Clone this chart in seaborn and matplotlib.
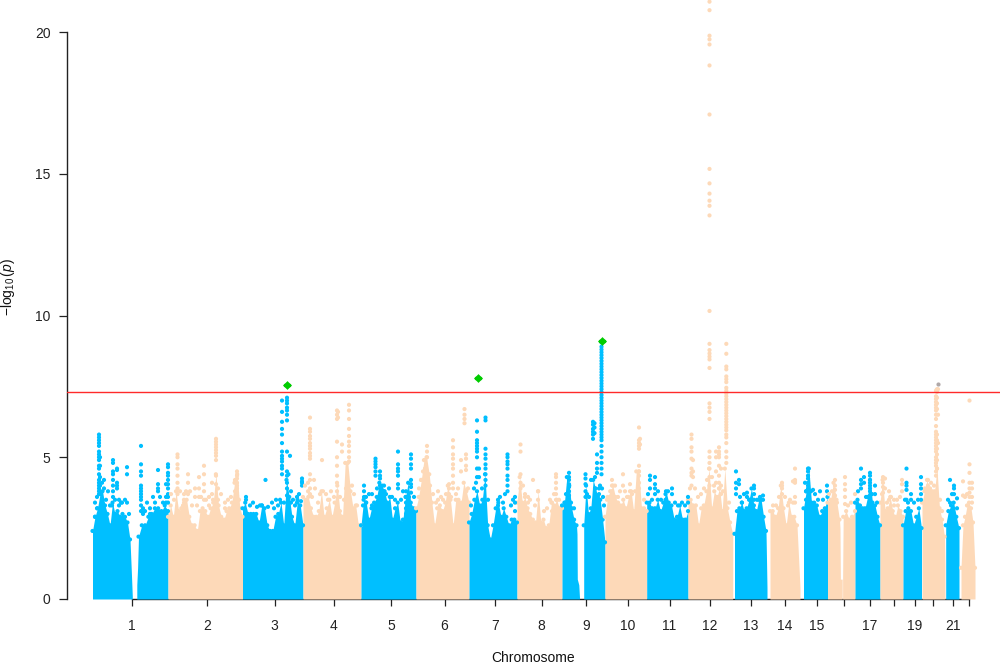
import numpy as np
import pandas as pd
import seaborn as sns
import matplotlib
matplotlib.use("Agg")
import matplotlib.pyplot as plt

BLUE = "#00BFFF"
PEACH = "#FDD9B8"

tick_pos = [132, 207, 274.5, 334, 391, 444.5, 495, 541.5, 586, 628, 669.5, 710, 751, 785,
            816.5, 843.5, 869.5, 893.5, 915, 933, 953, 968.5]
tick_labels = ["1", "2", "3", "4", "5", "6", "7", "8", "9", "10", "11", "12", "13", "14",
               "15", "", "17", "", "19", "", "21", ""]

# solid mass of each chromosome arm: (start, end, colour index, upper envelope, extra (pos, height) vertices)
arms = [
    (92.5, 130, 0, [2.4, 2.9, 3.2, 3.7, 3.8, 3.3, 3.0, 2.6, 3.4, 3.0, 3.1, 2.9, 3.0, 2.9, 2.7, 2.1], [(131.3, 1.0), (132.3, 0.1)]),
    (138.5, 168, 0, [2.2, 2.6, 2.6, 2.9, 3.0, 3.2, 3.2, 3.1, 3.3, 3.1], [(136.8, 0.5), (137.6, 1.1)]),
    (168, 242.5, 1, [2.9, 3.3, 2.9, 3.8, 3.1, 3.2, 3.5, 3.5, 2.9, 2.6, 2.6, 2.4, 3.1, 3.2, 3.1, 2.9, 3.2, 3.4,
                     4.4, 3.3, 2.9, 2.8, 3.1, 3.2, 3.4, 4.1, 4.4, 3.2, 2.9], []),
    (242.5, 303, 0, [3.2, 3.4, 3.0, 3.0, 3.0, 3.0, 2.7, 3.3, 3.2, 2.6, 2.4, 2.4, 2.9, 3.0, 3.4, 2.6, 4.2, 3.6,
                     2.9, 2.6, 3.5, 3.3, 2.6], []),
    (303, 361, 1, [3.6, 3.5, 3.6, 3.2, 2.9, 2.9, 3.1, 3.8, 2.9, 3.2, 3.5, 2.9, 3.4, 4.0, 3.1, 2.9, 4.8, 4.8,
                   3.8, 3.2, 3.3, 2.6, 2.6], []),
    (361, 416, 0, [2.6, 3.5, 3.4, 2.8, 3.2, 3.4, 3.6, 4.1, 4.0, 3.8, 3.4, 3.6, 2.8, 3.2, 3.4, 2.7, 2.8, 3.6,
                   4.1, 3.4, 3.2, 3.1], []),
    (416, 469, 1, [3.2, 3.6, 4.2, 4.9, 5.0, 4.4, 3.4, 2.6, 3.2, 3.3, 3.1, 3.4, 4.0, 3.5, 2.6, 3.5, 3.5, 3.4,
                   4.1, 3.8, 3.4], []),
    (469, 517, 0, [2.7, 3.0, 3.5, 3.8, 3.3, 3.5, 4.4, 2.6, 2.1, 2.6, 3.2, 3.4, 2.9, 3.2, 2.9, 2.6, 2.8, 2.8, 2.7], []),
    (517, 562, 1, [3.4, 4.3, 3.4, 3.6, 3.2, 3.0, 2.8, 2.7, 3.8, 2.7, 2.8, 2.5, 2.6, 3.4, 3.3, 3.5, 3.2, 3.2], []),
    (562, 576.5, 0, [3.3, 3.4, 4.3, 4.0, 3.2, 2.8, 2.6], [(577, 2.3), (577.3, 0.7), (578.8, 0.5), (579.5, 0.05)]),
    (583.7, 605, 0, [2.6, 4.0, 3.0, 3.2, 4.2, 3.9, 3.6, 3.5, 2.8, 2.0], []),
    (605, 646.7, 1, [2.9, 3.6, 3.8, 4.0, 3.6, 3.4, 3.3, 3.5, 3.2, 3.6, 3.8, 3.1, 4.5, 4.5, 3.2, 3.2, 3.1], []),
    (646.7, 688, 0, [3.4, 3.4, 3.2, 3.2, 3.5, 3.1, 3.4, 3.8, 3.4, 3.3, 2.8, 2.9, 3.3, 2.8, 2.8, 3.1], []),
    (688, 732.7, 1, [3.5, 3.5, 3.3, 3.3, 2.6, 3.2, 3.3, 3.8, 4.6, 3.2, 3.8, 3.6, 3.9, 3.1, 4.6, 3.2, 2.7, 2.3], []),
    (734.5, 766, 0, [2.3, 3.1, 3.2, 3.4, 3.1, 3.2, 3.5, 3.9, 3.3, 3.1, 3.5, 3.5, 2.9, 2.4], [(767, 0.4)]),
    (770, 797, 1, [3.1, 3.1, 2.9, 3.2, 4.0, 3.2, 2.6, 3.4, 2.9, 2.9, 2.6], [(798.5, 1.5), (800, 0.4)]),
    (803.5, 827.5, 0, [3.2, 3.8, 4.6, 3.4, 3.4, 3.3, 2.9, 3.1, 3.2, 3.6], []),
    (827.5, 839.5, 1, [3.4, 3.5, 4.1, 3.5, 2.8], [(840, 2.5), (840.4, 0.7), (842.2, 0.7)]),
    (843.2, 855, 1, [2.9, 3.1, 2.8, 2.9, 3.1], [(842.6, 0.7)]),
    (855, 880, 0, [3.4, 3.5, 3.3, 3.2, 3.2, 3.6, 4.2, 3.4, 3.3, 2.9, 2.6], []),
    (880, 903, 1, [3.4, 4.2, 3.1, 3.2, 3.6, 3.1, 2.9, 3.3, 3.1, 2.9], []),
    (903, 921.5, 0, [2.6, 3.1, 3.2, 3.1, 2.6, 2.9, 3.2, 2.5], []),
    (922, 944.5, 1, [3.4, 3.8, 4.2, 3.8, 3.8, 3.8, 4.6, 3.2, 2.8, 2.2], [(945, 1.2)]),
    (945.7, 959, 0, [2.6, 3.1, 3.3, 3.4, 2.9, 2.5], []),
    (961, 975, 1, [1.1, 2.6, 2.9, 3.3, 3.4, 3.2, 2.7, 1.1], []),
]

# individual SNPs above the solid mass: (position, [-log10 p, ...])
blue_snps = [
    (99, [5.8, 5.7, 5.6, 5.5, 5.4, 5.2, 5.1, 5.0, 4.9, 4.7, 4.6, 4.4, 4.2, 4.1, 4.0, 3.9, 3.8, 3.7]),
    (100, [5.0, 4.7, 4.3, 4.0, 3.8]), (113, [4.9, 4.8, 4.5, 4.4, 4.2, 4.0, 3.8, 3.6]),
    (117, [4.6, 4.55, 4.1, 4.0, 3.9]), (127, [4.65, 4.4, 3.4]), (119, [3.5, 3.3]), (122, [3.4]),
    (141, [5.4, 4.75, 4.5, 4.35, 4.0, 3.9, 3.8, 3.7, 3.6, 3.5, 3.3, 3.1]), (143, [3.2, 3.0]), (147, [3.4]),
    (158, [4.55, 4.05, 3.9, 3.8]), (150, [3.2, 3.0]),
    (168, [4.75, 4.65, 4.45, 4.35, 4.2, 4.05, 3.9, 3.7, 3.6, 3.4]), (166, [4.05, 3.6, 3.4]),
    (282, [7.0, 6.6, 6.25, 6.0, 5.8, 5.5, 5.2, 5.05, 4.95, 4.85, 4.7, 4.6, 4.4]),
    (287, [7.1, 7.0, 6.9, 6.75, 6.65, 6.5, 6.3, 5.2, 4.5, 4.35, 4.1, 3.9, 3.65]),
    (288.5, [4.4, 3.6, 3.5, 3.4, 3.3]), (290, [5.05]), (265.5, [4.2]), (276, [3.5]),
    (262, [3.3]), (253, [3.4]), (302, [4.25, 4.15, 4.1, 4.0]), (297, [3.6, 3.4]),
    (364, [4.0, 3.8, 3.6]), (366, [3.6, 3.4]), (375.5, [4.95, 4.85, 4.75, 4.65, 4.5, 4.35]),
    (380, [4.5, 4.35, 4.25, 4.0]), (398, [5.2, 4.75, 4.6, 4.5, 4.35, 4.05, 3.9]), (384, [4.0, 3.8]),
    (411, [5.1, 4.95, 4.75, 4.6, 4.2, 4.05, 3.95, 3.75]), (406, [3.8, 3.6, 3.4, 3.2, 3.0]), (392, [3.6]),
    (477, [6.3, 5.9, 5.6, 5.5, 5.4, 5.3, 5.2, 5.0, 4.6, 4.3]), (479, [4.6, 4.3]),
    (485.5, [6.4, 6.3, 5.3, 5.1, 4.95, 4.75, 4.6, 4.4, 4.2, 4.0]),
    (507.5, [5.1, 5.0, 4.85, 4.75, 4.6, 4.35, 4.2, 4.0, 3.8]), (498, [3.5, 3.3]), (515, [3.6, 3.4, 3.1]),
    (569, [4.45, 4.3, 4.2, 4.05, 3.95, 3.8, 3.65]), (565, [3.4]),
    (585.5, [4.4, 4.25, 4.05, 3.8, 3.6]), (593, [6.25, 6.15, 6.0, 5.9, 5.8, 5.65]), (594.5, [6.2, 6.05, 5.85]),
    (597, [5.1, 4.8, 4.6, 4.45]), (599, [3.9, 3.7, 3.5]), (604, [3.3]),
    (601.5, [9.05, 8.9, 8.8, 8.7, 8.6, 8.5, 8.4, 8.3, 8.2, 8.1, 8.0, 7.9, 7.8, 7.7, 7.6, 7.5, 7.4, 7.3, 7.2, 7.1,
             7.0, 6.9, 6.8, 6.7, 6.6, 6.5, 6.4, 6.3, 6.2, 6.1, 6.0, 5.9, 5.8, 5.7, 5.6, 5.4, 5.2, 5.0, 4.8, 4.6, 4.4]),
    (650, [4.35, 4.2, 3.9]), (655, [4.3, 4.05, 3.9, 3.7]), (672, [3.9, 3.7]), (665.5, [3.7, 3.5]),
    (688, [3.6, 3.4]), (736, [4.5, 4.1, 3.9, 3.7]), (739, [4.2, 4.05]), (747, [3.75, 3.6]),
    (754, [4.0, 3.9, 3.7, 3.5]), (763, [3.65, 3.5]), (742, [3.4]),
    (808, [4.6, 4.5, 4.35, 4.25, 4.1, 4.0, 3.9]), (806, [3.8, 3.5]), (813, [3.85]), (820, [3.8]),
    (827, [4.0, 3.8]), (861, [4.6, 4.2, 4.05, 3.9]), (864, [4.3, 4.1]),
    (870, [4.45, 4.35, 4.2, 4.1, 4.0, 3.9, 3.8, 3.65]), (875, [4.0, 3.7]),
    (906.5, [4.6, 4.1, 4.0, 3.85, 3.5]), (911, [3.7, 3.5]), (921, [4.3, 4.05, 3.9, 3.7, 3.5]),
    (950, [4.2, 3.4]), (954, [4.0, 3.9, 3.7]), (957, [3.55, 3.2]),
    # scatter just above the solid mass
    (95, [3.4, 2.9]), (97, [3.6, 3.2]), (102, [4.1]), (104, [4.2, 3.9]), (106, [3.5]), (108, [3.8]), (110, [3.3]),
    (112, [3.3]), (115, [3.5]), (121, [3.4]), (125, [3.5]), (129, [3.0]), (145, [3.1]), (153, [3.6]), (155, [3.4]),
    (160, [3.6]), (163, [3.4]), (246, [3.6, 3.5]), (250, [3.3]), (257, [3.25]), (260, [3.3]), (268, [3.25]),
    (272, [3.4]), (274, [3.2]), (278, [3.3]), (280, [3.5]), (284, [3.4]), (291, [3.8, 3.4]), (293, [3.5]),
    (295, [3.3]), (299, [3.7]), (301, [3.45]), (363, [3.3]), (369, [3.7]), (372, [3.7, 3.3]), (377, [3.9]),
    (386, [3.7, 3.4]), (389, [3.9]), (395, [3.5]), (401, [3.5]), (403, [3.8]), (409, [3.6]), (414, [3.6]),
    (471, [3.3]), (474, [3.9]), (476, [4.1]), (482, [3.9]), (488, [3.5]), (500, [3.6]), (503, [3.4]), (505, [3.7]),
    (511, [3.3]), (513, [3.5]), (566, [3.7]), (571, [3.4]), (574, [3.2]), (587, [3.7]), (589, [3.6]), (591, [4.2]),
    (595, [4.3, 3.9]), (600, [4.0]), (602, [3.9]), (603, [3.6]), (648, [3.7]), (652, [3.5]), (658, [3.8]),
    (661, [3.5]), (668, [3.8]), (675, [3.4]), (678, [3.3]), (682, [3.4]), (685, [3.3]), (740, [3.6]), (744, [3.7]),
    (750, [3.5]), (757, [3.5]), (760, [3.6]), (805, [4.1]), (811, [3.8]), (815, [3.7]), (818, [3.5]), (823, [3.5]),
    (858, [3.8]), (866, [3.6]), (872, [3.7]), (877, [3.4]), (905, [3.5]), (908, [3.4]), (914, [3.4]), (918, [3.5]),
    (948, [3.5]), (952, [3.7]),
]
peach_snps = [
    (177.5, [5.1, 5.0, 4.75, 4.6, 4.35, 4.1, 3.9, 3.7]), (188, [4.4, 4.1, 3.7]), (184, [3.7, 3.4]),
    (199, [4.3, 3.9, 3.6]), (195, [3.9, 3.6]), (204, [4.7, 4.4, 4.05, 3.8, 3.5]), (212, [4.1, 3.7]),
    (216, [5.65, 5.55, 5.45, 5.35, 5.25, 5.15, 5.05, 4.9, 4.35, 4.05]), (218, [3.9, 3.5]),
    (225, [3.4, 3.2]), (237, [4.5, 4.35, 4.25, 4.1, 4.0, 3.9, 3.75, 3.65, 3.5]), (235, [4.2, 3.8]),
    (310, [6.4, 6.0, 5.9, 5.75, 5.65, 5.5, 5.4, 5.3, 5.15, 5.05, 4.95, 4.4, 4.2, 3.9, 3.7]), (322, [4.9]),
    (314, [4.2]), (315, [3.9]), (323, [3.8]), (337, [6.65, 6.5, 6.35, 5.55, 5.0, 4.7, 4.35, 4.1, 3.8]),
    (338, [6.6, 6.4]), (342, [5.45, 5.2]), (349, [6.85, 6.65, 6.35, 6.0, 5.75, 5.55, 5.4, 5.2, 5.0, 4.85]),
    (427, [5.4, 5.2, 5.0]), (425, [4.9, 4.6]), (423, [4.5, 4.2, 3.9]), (438, [3.8, 3.5]),
    (453, [5.6, 5.35, 5.1, 4.95, 4.75, 4.6, 4.35, 4.1, 3.9]), (464.5, [6.7, 6.5, 6.35, 6.2]),
    (466, [5.1, 4.95, 4.7, 4.55]), (449, [4.05, 3.9, 3.7]), (461, [4.9, 4.5]),
    (520.5, [5.45, 5.2, 4.4, 4.1, 3.9]), (533, [4.2]), (528, [3.6, 3.4]), (538, [3.8, 3.5]),
    (556, [4.4, 4.3, 4.1, 3.9, 3.7, 3.5]), (552, [3.4, 3.1]),
    (639, [6.05, 5.6, 5.5, 5.4, 5.3, 4.7, 4.5, 4.35, 4.1, 3.9]), (640, [5.65, 5.45]),
    (623, [4.4, 4.0]), (612, [4.2, 4.0, 3.8]), (630, [4.05, 3.8]), (618, [3.6]),
    (691.5, [5.8, 5.65, 5.35, 5.2, 4.95, 4.6, 4.45, 4.35, 4.0]), (693, [4.9, 4.5, 4.3]),
    (709.5, [21.07, 20.77, 19.87, 19.74, 19.56, 18.82, 17.09, 15.17, 14.66, 14.3, 14.05, 13.87, 13.53, 10.16,
             9.0, 8.78, 8.66, 8.55, 8.45, 8.15, 6.9, 6.75, 6.6, 6.35, 5.2, 5.0, 4.8, 4.6, 4.3, 4.0]),
    (726.3, [9.0, 8.65, 8.2, 8.1, 7.85, 7.75, 7.65, 7.45, 7.35, 7.25, 7.15, 7.05, 6.95, 6.85, 6.75, 6.65, 6.55,
             6.45, 6.35, 6.25, 6.15, 6.05, 5.95, 5.8, 5.7, 5.5, 5.2, 5.0, 4.8]),
    (719, [5.35, 5.2, 5.1, 5.0, 4.7, 4.35, 4.1, 3.9]), (716, [5.2, 5.0, 4.5, 4.1]), (721, [4.6, 4.0, 3.7]),
    (782, [4.1, 4.0, 3.9, 3.7]), (795, [4.6, 4.2, 4.15, 4.1, 3.6, 3.4]), (793, [4.15, 3.4]),
    (835, [4.2, 4.0, 3.85, 3.65]), (845, [4.3, 4.05, 3.85, 3.6, 3.35]), (855, [3.7]),
    (883, [4.3, 4.1, 3.95, 3.75]), (885, [4.25, 3.9]), (889, [3.8, 3.5]), (894, [3.5, 3.3]),
    (902, [4.2, 4.05, 3.8]), (928, [4.2, 4.0]), (931, [4.1]),
    (936, [7.35, 7.15, 7.05, 6.95, 6.85, 6.75, 6.65, 6.5, 6.35, 6.1, 5.9, 5.8, 5.7, 5.6, 5.5, 5.4, 5.3, 5.2, 5.0,
           4.9, 4.8, 4.7, 4.5, 4.35]),
    (937, [7.4, 7.3, 7.1, 6.9, 6.7, 5.8, 5.6, 5.3, 5.1, 4.9, 4.6]), (938, [7.4, 6.5, 5.5]),
    (969.5, [7.0, 4.75, 4.45, 4.1, 3.9, 3.75, 3.6]), (963, [4.15, 3.65]), (972, [4.1, 3.9, 3.6, 3.4]),
    # scatter just above the solid mass
    (171, [3.7]), (174, [3.5]), (180, [3.8]), (183, [3.3]), (186, [3.8]), (190, [3.8]), (192, [3.3]), (197, [3.3]),
    (201, [3.6]), (206, [3.5]), (209, [3.6, 3.3]), (213, [3.5]), (221, [3.7]), (228, [3.5]), (231, [3.6]), (239, [3.5]),
    (305, [4.0]), (308, [4.1, 3.8]), (312, [3.6]), (318, [3.4]), (320, [3.7]), (326, [3.7]), (328, [3.5]), (331, [3.8]),
    (334, [3.6]), (340, [3.6]), (344, [3.5]), (346, [3.9]), (352, [4.0]), (354, [3.7]), (357, [3.3]),
    (419, [3.9]), (421, [4.2]), (430, [4.0]), (433, [3.7]), (436, [3.4]), (441, [3.6]), (443, [3.5]), (446, [3.7]),
    (451, [3.6]), (456, [3.7]), (458, [3.9]), (468, [3.9]), (523, [4.0]), (525, [3.7]), (530, [3.5]), (535, [3.3]),
    (544, [3.1]), (547, [3.2]), (550, [3.5]), (554, [3.7]), (559, [3.5]), (607, [3.5]), (610, [3.6]), (615, [4.0]),
    (620, [3.8]), (625, [3.8]), (627, [3.6]), (632, [3.7]), (635, [3.8]), (644, [3.5]), (690, [3.9]), (695, [3.9]),
    (698, [3.6]), (701, [3.7]), (704, [3.9]), (707, [4.2]), (712, [4.3]), (714, [4.0]), (723, [3.8]), (729, [3.4]),
    (773, [3.3]), (776, [3.3]), (779, [3.6]), (785, [3.6]), (788, [3.3]), (790, [3.5]), (829, [3.7]), (832, [3.8]),
    (837, [3.4]), (848, [3.3]), (851, [3.4]), (882, [3.7]), (887, [3.4]), (891, [3.6]), (897, [3.5]), (900, [3.6]),
    (925, [3.9]), (930, [3.9]), (934, [4.0]), (940, [3.5]), (942, [3.1]), (965, [3.6]), (967, [3.7]),
]
hit_pos = [287, 477.5, 602]
hit_val = [7.55, 7.8, 9.1]
hit_side_pos = [285, 289, 475.5, 479.5, 600, 604]
hit_side_val = [7.55, 7.55, 7.8, 7.8, 9.1, 9.1]
top_snp_pos = [937.7]
top_snp_val = [7.6]
threshold = 7.3

sns.set_theme(style="ticks", rc={"axes.edgecolor": "#222222", "axes.linewidth": 1.0,
                                 "xtick.color": "#222222", "ytick.color": "#222222",
                                 "text.color": "#111111", "axes.labelcolor": "#111111",
                                 "mathtext.fontset": "custom", "mathtext.rm": "Liberation Sans",
                                 "mathtext.it": "Liberation Sans:italic", "axes.unicode_minus": True})
plt.rcParams["font.family"] = ["Liberation Sans", "DejaVu Sans"]

fig = plt.figure(figsize=(10, 6.63), dpi=100)
ax = fig.add_axes([0.067, 64 / 663, 0.933, 599 / 663])

env_rows, snp_rows = [], []
for start, end, col, heights, extra in arms:
    xs = np.linspace(start, end, len(heights))
    verts = sorted(list(zip(xs, heights)) + extra)
    vx, vh = zip(*verts)
    ax.fill_between(vx, 0, vh, color=[BLUE, PEACH][col], lw=0, zorder=3)
    env_rows += [(x, h, col) for x, h in zip(xs, heights)]
for col, table in enumerate([blue_snps, peach_snps]):
    for x, vals in table:
        snp_rows += [(x, v, col) for v in vals]

points = pd.DataFrame(env_rows + snp_rows, columns=["pos", "logp", "col"])
sns.scatterplot(data=points, x="pos", y="logp", hue="col", palette={0: BLUE, 1: PEACH},
                s=9, linewidth=0, legend=False, ax=ax, zorder=4)
sns.scatterplot(x=hit_pos, y=hit_val, color="#00CC00", marker="D", s=20, linewidth=0, ax=ax, zorder=6)
sns.scatterplot(x=hit_side_pos, y=hit_side_val, color="#00CC00", marker="o", s=7, linewidth=0, ax=ax, zorder=6)
sns.scatterplot(x=top_snp_pos, y=top_snp_val, color="#B0A8A8", s=9, linewidth=0, ax=ax, zorder=6)
ax.axhline(threshold, color="#FF2A2A", lw=1.0, zorder=5)

ax.set_xlim(67, 1000)
ax.set_ylim(0, 599 / 28.35)
ax.set_xticks(tick_pos, tick_labels)
ax.set_yticks([0, 5, 10, 15, 20])
ax.tick_params(axis="x", length=5.2, width=0.9, pad=9.5, labelsize=10)
ax.tick_params(axis="y", length=5.8, width=0.9, pad=6, labelsize=10)
sns.despine(ax=ax)
ax.spines["left"].set_bounds(0, 20)
ax.spines["bottom"].set_bounds(tick_pos[0], tick_pos[-1])
ax.set_xlabel("Chromosome", fontsize=10, va="center")
ax.xaxis.set_label_coords((533 - 67) / 933, -(658 - 599) / 599)
ax.set_ylabel(r"$-\log_{10}(p)$", fontsize=10, va="center")
ax.yaxis.set_label_coords((8 - 67) / 933, (599 - 287) / 599)

fig.savefig("out.png", dpi=100)
